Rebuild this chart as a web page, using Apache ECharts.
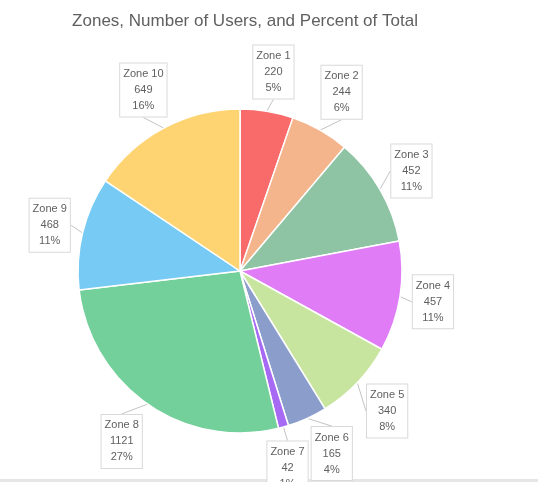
<!DOCTYPE html>
<html>
<head>
<meta charset="utf-8">
<script src="https://cdn.jsdelivr.net/npm/echarts@6/dist/echarts.min.js"></script>
<style>
  html, body { margin: 0; padding: 0; background: #fff; }
  #chart { width: 538px; height: 482px; }
</style>
</head>
<body>
<div id="chart"></div>
<script>
  // data
  const zones = ['Zone 1', 'Zone 2', 'Zone 3', 'Zone 4', 'Zone 5', 'Zone 6', 'Zone 7', 'Zone 8', 'Zone 9', 'Zone 10']
  const users = [220, 244, 452, 457, 340, 165, 42, 1121, 468, 649]
  const colors = ['#f96b6b', '#f4b48c', '#8ec3a3', '#e17cf7', '#c8e59f', '#8b9ecb', '#a76af4', '#73d09a', '#77caf3', '#fdd471']

  const pieCenter = [240, 271]
  const pieRadius = 162
  const rimGap = 12

  const total = users.reduce((a, b) => a + b, 0)
  // middle angle of each slice, clockwise from 12 o'clock (radians)
  const midAngles = []
  let acc = 0
  users.forEach((v) => {
    midAngles.push(((acc + v / 2) / total) * Math.PI * 2)
    acc += v
  })

  // centre of a callout box: rim + gap + half the box along the radial direction
  function calloutAt(i, w, h) {
    const a = midAngles[i]
    const dx = Math.sin(a)
    const dy = -Math.cos(a)
    const hx = Math.abs(dx) > 1e-6 ? w / 2 / Math.abs(dx) : Infinity
    const hy = Math.abs(dy) > 1e-6 ? h / 2 / Math.abs(dy) : Infinity
    const d = pieRadius + rimGap + Math.min(hx, hy)
    return [pieCenter[0] + dx * d, pieCenter[1] + dy * d]
  }

  // nudge a box sideways (along the rim) if it runs into a neighbour
  function calloutPlaced(i, w, h) {
    const p = calloutAt(i, w, h)
    const a = midAngles[i]
    const tx = Math.cos(a)
    const ty = Math.sin(a)
    let shift = 0
    ;[i - 1, i + 1].forEach((j) => {
      if (j < 0 || j >= users.length) return
      const q = calloutAt(j, w, h)
      const ox = w + 2 - Math.abs(p[0] - q[0])
      const oy = h + 2 - Math.abs(p[1] - q[1])
      if (ox > 0 && oy > 0) {
        const need = Math.min(
          Math.abs(tx) > 1e-6 ? ox / Math.abs(tx) : Infinity,
          Math.abs(ty) > 1e-6 ? oy / Math.abs(ty) : Infinity
        ) / 2
        shift += j < i ? need : -need
      }
    })
    return [p[0] + tx * shift, p[1] + ty * shift]
  }

  const chart = echarts.init(document.getElementById('chart'))

  const option = {
    animation: false,
    backgroundColor: '#fff',
    title: {
      text: 'Zones, Number of Users, and Percent of Total',
      left: 240,
      top: 8,
      textAlign: 'center',
      textStyle: {
        fontFamily: 'Liberation Sans',
        fontSize: 17,
        fontWeight: 'normal',
        color: '#606060',
      },
    },
    graphic: [
      {
        // thin grey strip along the bottom edge
        type: 'rect',
        left: 0,
        bottom: 0,
        shape: { width: 538, height: 3 },
        style: { fill: '#e6e6e6' },
      },
    ],
    series: [
      {
        type: 'pie',
        center: pieCenter,
        radius: pieRadius,
        startAngle: 90,
        clockwise: true,
        avoidLabelOverlap: false,
        percentPrecision: 0,
        itemStyle: {
          borderColor: '#fff',
          borderWidth: 1.5,
        },
        label: {
          show: true,
          position: 'outside',
          formatter: '{b}\n{c}\n{d}%',
          fontFamily: 'Liberation Sans',
          fontSize: 11,
          lineHeight: 16,
          color: '#606060',
          align: 'center',
          backgroundColor: '#fff',
          borderColor: '#d9d9d9',
          borderWidth: 1,
          padding: [3, 3, 2, 3],
        },
        labelLine: {
          show: true,
          length: 20,
          length2: 0,
          lineStyle: { color: '#c4c4c4', width: 1 },
        },
        labelLayout: function (params) {
          const p = calloutPlaced(params.dataIndex, params.labelRect.width, params.labelRect.height)
          return {
            x: p[0],
            y: p[1],
            align: 'center',
            verticalAlign: 'middle',
          }
        },
        data: zones.map((name, i) => ({
          name: name,
          value: users[i],
          itemStyle: { color: colors[i] },
        })),
      },
    ],
  }

  chart.setOption(option)
</script>
</body>
</html>
